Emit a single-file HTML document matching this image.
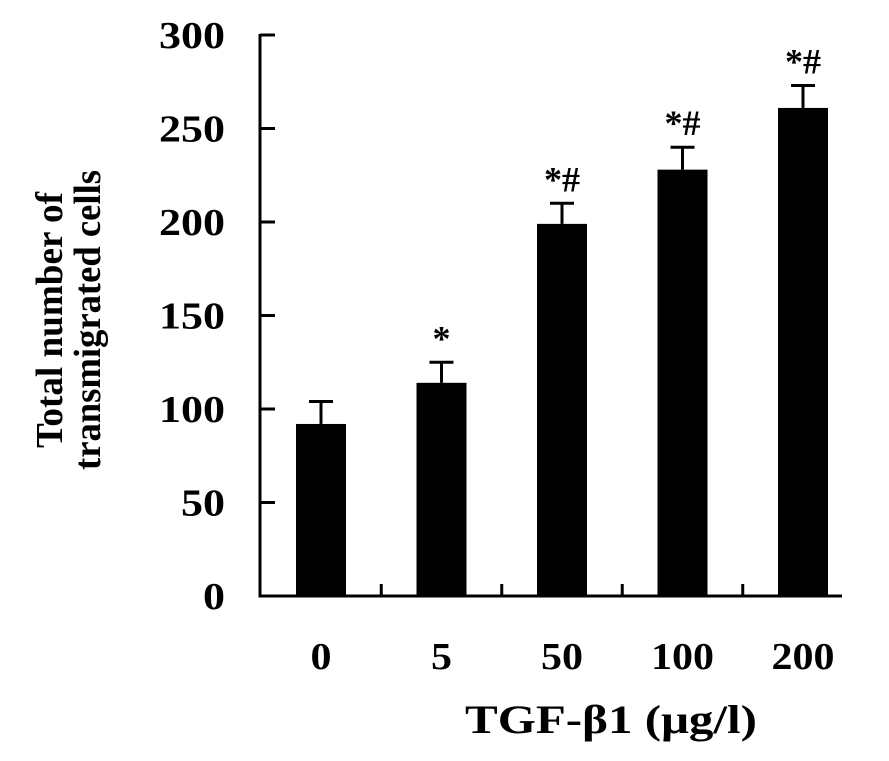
<!DOCTYPE html>
<html><head><meta charset="utf-8"><style>
body{margin:0;background:#fff}
text{font-family:"Liberation Serif",serif;font-weight:bold;fill:#000}
</style></head><body>
<svg id="chart" width="889" height="756" xmlns="http://www.w3.org/2000/svg"></svg>
<script>
const categories=["0","5","50","100","200"];
const values=[92,114,199,228,261];
const errors=[12,11,11,12,12];
const marks=["","*","*#","*#","*#"];
const yTicks=[0,50,100,150,200,250,300];
const svg=document.getElementById('chart');
const NS="http://www.w3.org/2000/svg";
const y0=596,k=1.87,x0=260,step=120.5,first=321,bw=50;
const y=v=>y0-v*k, x=i=>first+i*step;
function mk(t,a,p){const e=document.createElementNS(NS,t);for(const q in a)e.setAttribute(q,a[q]);(p||svg).appendChild(e);return e;}
let e;
e=mk('line',{x1:x0,y1:y(300)-1,x2:x0,y2:y0,stroke:'#000','stroke-width':3});


e=mk('line',{x1:x0-1.5,y1:y0,x2:842,y2:y0,stroke:'#000','stroke-width':3});


yTicks.forEach(v=>{
 e=mk('line',{x1:x0,y1:y(v),x2:x0+15,y2:y(v),stroke:'#000','stroke-width':3});
 
 
 e=mk('text',{x:x0-35,y:y(v)+13,'text-anchor':'end','font-size':38,lengthAdjust:'spacingAndGlyphs'});
 const s=String(v);
 e.setAttribute('textLength',s.length*22);
 e.textContent=v;
 
 
});
categories.forEach((c,i)=>{
 const cx=x(i);
 if(i<categories.length-1){
  e=mk('line',{x1:cx+step/2,y1:y0,x2:cx+step/2,y2:y0-12,stroke:'#000','stroke-width':3});
  
  
 }
 e=mk('rect',{x:cx-bw/2,y:y(values[i]),width:bw,height:y0-y(values[i]),fill:'#000'});
 
 
 const top=y(values[i]+errors[i]);
 e=mk('line',{x1:cx,y1:y(values[i]),x2:cx,y2:top,stroke:'#000','stroke-width':3});
 
 
 e=mk('line',{x1:cx-12,y1:top,x2:cx+12,y2:top,stroke:'#000','stroke-width':3});
 
 
 if(marks[i]){
  e=mk('text',{x:cx,y:top-12,'text-anchor':'middle','font-size':36});
  e.textContent=marks[i];
  
  
 }
 e=mk('text',{x:cx,y:669,'text-anchor':'middle','font-size':38,lengthAdjust:'spacingAndGlyphs'});
 e.setAttribute('textLength',c.length*21);
 e.textContent=c;
 
 
});
e=mk('text',{x:465,y:733,'font-size':40,textLength:292,lengthAdjust:'spacingAndGlyphs'});
e.textContent="TGF-β1 (μg/l)";


const g=mk('text',{transform:'translate(62,320) rotate(-90)','text-anchor':'middle','font-size':38});


const t1=mk('tspan',{x:0,y:0,textLength:256,lengthAdjust:'spacingAndGlyphs'},g);t1.textContent="Total number of";
const t2=mk('tspan',{x:0,y:38,textLength:300,lengthAdjust:'spacingAndGlyphs'},g);t2.textContent="transmigrated cells";
</script>
</body></html>
